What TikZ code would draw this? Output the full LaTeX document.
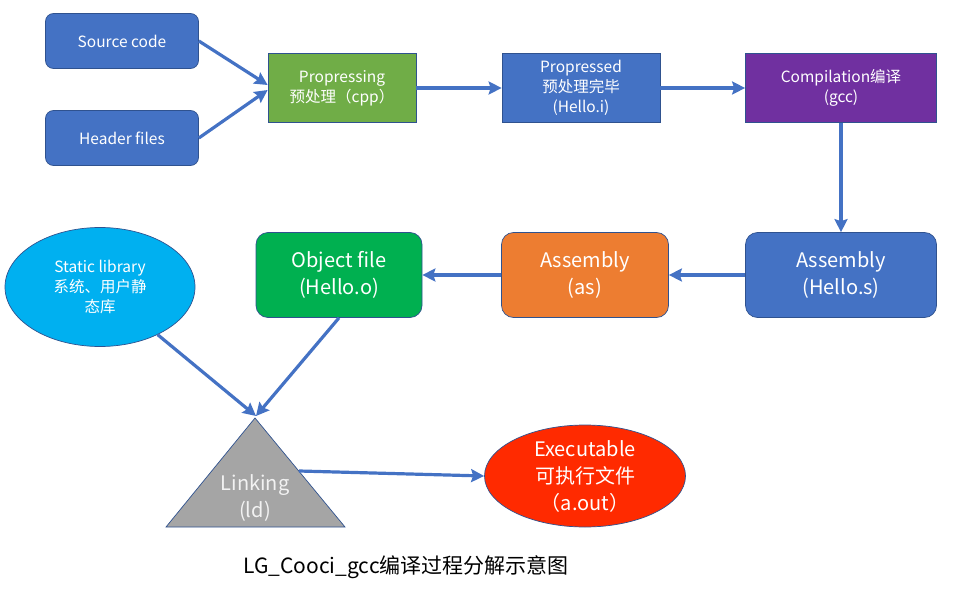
\documentclass[tikz,border=0pt]{standalone}
\usepackage{fontspec}
\setmainfont{Noto Sans CJK SC}
\usetikzlibrary{arrows.meta,shapes.geometric}
\definecolor{flowblue}{HTML}{4472C4}
\definecolor{edgeblue}{HTML}{2F528F}
\definecolor{cppgreen}{HTML}{70AD47}
\definecolor{gccpurple}{HTML}{7030A0}
\definecolor{asorange}{HTML}{ED7D31}
\definecolor{objgreen}{HTML}{00B050}
\definecolor{libcyan}{HTML}{00B0F0}
\definecolor{exered}{HTML}{FF2A00}
\definecolor{ldgray}{HTML}{A5A5A5}
\begin{document}
\begin{tikzpicture}[x=1pt,y=-1pt,
    stage/.style={draw=edgeblue, line width=0.7pt, text=white, align=center, inner sep=0pt},
    small/.style={font=\fontsize{15.5}{20}\selectfont},
    big/.style={font=\fontsize{20}{27}\selectfont},
    flow/.style={draw=flowblue, line width=3.2pt, -{Stealth[length=13pt,width=13pt,inset=2pt]}}]
  \useasboundingbox (0,0) rectangle (966,591);
  \node[stage,small,fill=flowblue,rounded corners=8pt,minimum width=153pt,minimum height=55pt] (src) at (122,41) {Source code};
  \node[stage,small,fill=flowblue,rounded corners=8pt,minimum width=153pt,minimum height=55pt] (hdr) at (122,138) {Header files};
  \node[stage,small,fill=cppgreen,minimum width=148pt,minimum height=69pt] (cpp) at (342,88) {Propressing\\预处理（cpp）};
  \node[stage,small,fill=flowblue,minimum width=158pt,minimum height=69pt] (hi) at (581,88) {Propressed\\预处理完毕\\(Hello.i)};
  \node[stage,small,fill=gccpurple,minimum width=191pt,minimum height=69pt] (gcc) at (841,88) {Compilation编译\\(gcc)};
  \node[stage,big,fill=flowblue,rounded corners=12pt,minimum width=191pt,minimum height=85pt] (hs) at (841,275) {Assembly\\(Hello.s)};
  \node[stage,big,fill=asorange,rounded corners=12pt,minimum width=167pt,minimum height=85pt] (as) at (585,275) {Assembly\\(as)};
  \node[stage,big,fill=objgreen,rounded corners=12pt,minimum width=166pt,minimum height=85pt] (obj) at (339,275) {Object file\\(Hello.o)};
  \node[stage,font=\fontsize{15.5}{20}\selectfont,fill=libcyan,ellipse,minimum width=190pt,minimum height=119pt] (slib) at (100,287) {Static library\\系统、用户静\\态库};
  \node[stage,big,fill=exered,ellipse,minimum width=201pt,minimum height=102pt] (exe) at (585,476) {Executable\\可执行文件\\（a.out）};
  \draw[draw=edgeblue,line width=0.7pt,fill=ldgray] (255,418) -- (345,527) -- (166,527) -- cycle;
  \coordinate (ldtop) at (256,416);
  \coordinate (ldright) at (299,471);
  \node[big,text=white!90!gray,align=center] (link) at (255,498) {Linking\\(ld)};
  \draw[flow] (src.east) -- ([yshift=3pt]cpp.west);
  \draw[flow] (hdr.east) -- ([yshift=-2pt]cpp.west);
  \draw[flow] (cpp) -- (hi);
  \draw[flow] (hi) -- (gcc);
  \draw[flow] (gcc) -- (hs);
  \draw[flow] (hs) -- (as);
  \draw[flow] (as) -- (obj);
  \draw[flow] (slib) -- (ldtop);
  \draw[flow] (obj.south) -- (ldtop);
  \draw[flow] (ldright) -- (exe.west);
  \node[font=\fontsize{21}{26}\selectfont] (title) at (406,567) {LG\_Cooci\_gcc编译过程分解示意图};
\end{tikzpicture}
\end{document}
